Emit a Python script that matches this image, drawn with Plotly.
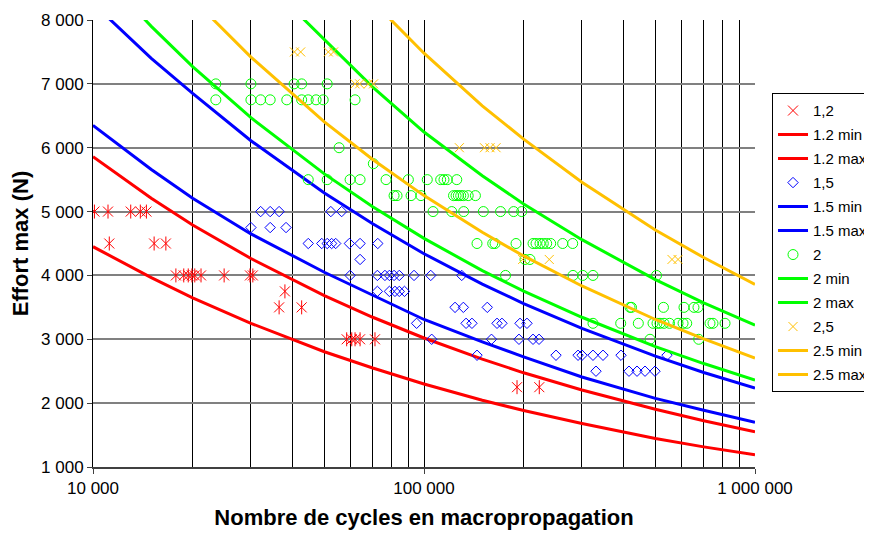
import plotly.graph_objects as go

# ---------------- data ----------------
# Series "1,2"
N_12 = [10100, 11100, 13000, 13900, 14500,
        11200, 15300, 16600,
        17800, 18800, 19400, 19900, 20300, 21200, 24900, 29800, 30400,
        38000, 36500, 42700,
        58400, 60500, 61900, 64100, 71100,
        191000, 223000]
F_12 = [5000, 5000, 5000, 5000, 5000,
        4500, 4500, 4500,
        4000, 4000, 4000, 4000, 4000, 4000, 4000, 4000, 4000,
        3750, 3500, 3500,
        3000, 3000, 3000, 3000, 3000,
        2250, 2250]

# Series "1,5"
N_15 = [32100, 34300, 36500, 52300, 56400,
        30000, 34300, 38300,
        44700, 49100, 51000, 52600, 54100, 59500, 64100, 72500,
        64100,
        59800, 72300, 76200, 78600, 81200, 84200, 93300, 104800, 130000,
        72300, 78600, 81700, 84200, 87300,
        124100, 131500, 155300,
        95000, 134000, 139600, 166200, 172000, 195000, 204700,
        105500, 159900, 193600, 213500, 222600,
        144600, 250500, 292000, 300200, 324000, 347400, 393700, 542100,
        330800, 416200, 440100, 465300, 498800]
F_15 = [5000] * 5 + [4750] * 3 + [4500] * 8 + [4250] + [4000] * 9 + [3750] * 5 + \
       [3500] * 3 + [3250] * 7 + [3000] * 5 + [2750] * 8 + [2500] * 5

# Series "2"
N_2 = [23500, 30000, 40500, 42700, 51000,
       23500, 30000, 32100, 34300, 38500, 42700, 44700, 47200, 49600, 61900,
       55400,
       70300,
       44700, 51000, 59800, 64100, 76800, 89700, 102300, 112300, 114900, 117600, 125600,
       81200, 82900, 91400, 97900, 122800, 125000, 127000, 129100, 131500, 136000, 143000,
       106500, 121300, 131800, 151100, 170300, 186600, 197300,
       144600, 161300, 163900, 189700, 213500, 218000, 224100, 229300, 234800, 241400, 262400, 281300,
       201900, 209000,
       176300, 281900, 301700, 324000, 504000,
       419200, 423600, 529000, 610200, 654000, 672500,
       324000, 392900, 444100, 491900, 505800, 516400, 531000, 551700, 585500, 606200, 622000,
       731200, 746600, 811800,
       481800, 676000]
F_2 = [7000] * 5 + [6750] * 10 + [6000] + [5750] + [5500] * 11 + [5250] * 11 + \
      [5000] * 7 + [4500] * 12 + [4250] * 2 + [4000] * 5 + [3500] * 6 + [3250] * 14 + [3000] * 2

# Series "2,5"
N_25 = [40600, 42400, 51400, 53300,
        61900, 63900, 67900, 70400,
        127900, 152300, 158300, 165100,
        198600, 239000, 561400, 585500]
F_25 = [7500] * 4 + [7000] * 4 + [6000] * 4 + [4250] * 4

# Min / max curves
N_curve = [10000, 15000, 20000, 30000, 50000, 70000, 100000, 150000,
           200000, 300000, 500000, 700000, 1000000]
F_12_min = [4450, 3965, 3650, 3250, 2805, 2550, 2300, 2045, 1885, 1680, 1445, 1315, 1190]
F_12_max = [5860, 5210, 4790, 4265, 3685, 3345, 3020, 2690, 2475, 2205, 1905, 1725, 1550]
F_15_min = [6350, 5660, 5210, 4650, 4050, 3690, 3310, 2960, 2725, 2410, 2075, 1890, 1700]
F_15_max = [8260, 7400, 6850, 6110, 5290, 4810, 4340, 3865, 3560, 3170, 2735, 2480, 2235]
F_2_min = [8870, 7900, 7270, 6470, 5590, 5075, 4580, 4075, 3755, 3345, 2885, 2620, 2360]
F_2_max = [12090, 10770, 9910, 8825, 7700, 6950, 6245, 5560, 5120, 4560, 3935, 3570, 3220]
F_25_min = [10160, 9050, 8330, 7420, 6405, 5815, 5250, 4675, 4305, 3835, 3310, 3005, 2705]
F_25_max = [14480, 12900, 11870, 10570, 9125, 8290, 7480, 6655, 6135, 5460, 4710, 4280, 3860]

x_ticks = [10000, 100000, 1000000]
x_ticktext = ["10 000", "100 000", "1 000 000"]
x_minor = [m * d for d in (10000, 100000) for m in range(2, 10)]
y_ticks = [1000, 2000, 3000, 4000, 5000, 6000, 7000, 8000]
y_ticktext = ["1 000", "2 000", "3 000", "4 000", "5 000", "6 000", "7 000", "8 000"]

RED, BLUE, GREEN, ORANGE = "#FF0000", "#0000FF", "#00FF00", "#FFC000"
FONT = "Liberation Sans, Arial, sans-serif"

fig = go.Figure()


def points(name, xs, ys, color, symbol, size, group):
    fig.add_trace(go.Scatter(
        x=xs, y=ys, mode="markers", name=name, legendgroup=group,
        marker=dict(symbol=symbol, size=size, color=color,
                    line=dict(color=color, width=1))))


def curve(name, ys, color, group):
    fig.add_trace(go.Scatter(
        x=N_curve, y=ys, mode="lines", name=name, legendgroup=group,
        line=dict(color=color, width=3)))


points("1,2", N_12, F_12, RED, "x-thin-open", 10, "a")
fig.add_trace(go.Scatter(x=N_12, y=F_12, mode="markers", showlegend=False,
                         legendgroup="a", hoverinfo="skip",
                         marker=dict(symbol="line-ns-open", size=10, color=RED,
                                     line=dict(color=RED, width=1))))
curve("1.2 min", F_12_min, RED, "b")
curve("1.2 max", F_12_max, RED, "c")
points("1,5", N_15, F_15, BLUE, "diamond-open", 8, "d")
curve("1.5 min", F_15_min, BLUE, "e")
curve("1.5 max", F_15_max, BLUE, "f")
points("2", N_2, F_2, GREEN, "circle-open", 10, "g")
curve("2 min", F_2_min, GREEN, "h")
curve("2 max", F_2_max, GREEN, "i")
points("2,5", N_25, F_25, ORANGE, "x-thin-open", 9, "j")
curve("2.5 min", F_25_min, ORANGE, "k")
curve("2.5 max", F_25_max, ORANGE, "l")

# the page body adds an 8px margin, so the figure is 8px smaller and shifted
fig.update_layout(
    width=864, height=526,
    margin=dict(l=85, r=117, t=12, b=67, autoexpand=False),
    paper_bgcolor="white", plot_bgcolor="white",
    font=dict(family=FONT, size=17, color="black"),
    showlegend=True,
    legend=dict(x=1.0257, y=0.836, xanchor="left", yanchor="top",
                bgcolor="white", bordercolor="#000000", borderwidth=1,
                font=dict(family=FONT, size=15, color="black"),
                tracegroupgap=1.5, traceorder="grouped"),
    xaxis=dict(
        type="log", range=[4, 6],
        tickvals=x_ticks, ticktext=x_ticktext,
        showgrid=True, gridcolor="#000000", gridwidth=1,
        minor=dict(tickvals=x_minor, showgrid=True, gridcolor="#000000", gridwidth=1),
        showline=True, linecolor="#404040", linewidth=2,
        ticks="outside", ticklen=5, tickcolor="#404040",
        tickfont=dict(family=FONT, size=17),
        zeroline=False,
        title=dict(text="Nombre de cycles en macropropagation",
                   font=dict(family=FONT, size=22, weight="bold"), standoff=12),
    ),
    yaxis=dict(
        range=[1000, 8000],
        tickvals=y_ticks, ticktext=y_ticktext,
        showgrid=True, gridcolor="#808080", gridwidth=1.5,
        showline=True, linecolor="#000000", linewidth=1,
        ticks="outside", ticklen=5, tickcolor="#404040",
        tickfont=dict(family=FONT, size=17),
        zeroline=False,
        title=dict(text="Effort max (N)",
                   font=dict(family=FONT, size=22, weight="bold"), standoff=10),
    ),
)

fig.write_html("out.html")
